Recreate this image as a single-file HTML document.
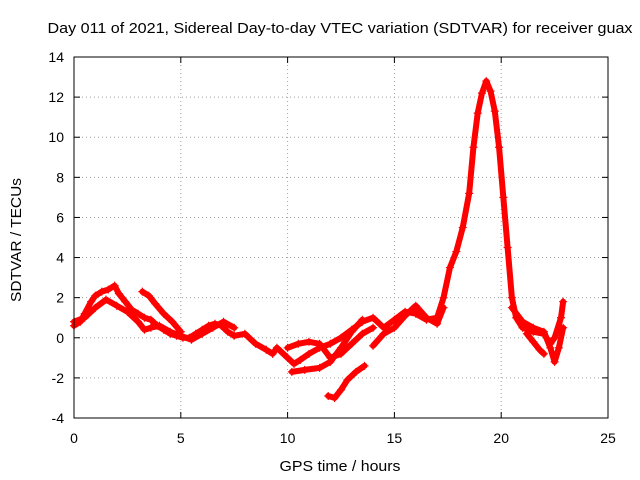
<!DOCTYPE html>
<html><head><meta charset="utf-8"><style>
body{margin:0;background:#fff}
svg{display:block;font-family:"Liberation Sans",sans-serif}
</style></head><body>
<svg id="chart" width="640" height="480">
<text x="340" y="33" text-anchor="middle" font-size="15" textLength="585" lengthAdjust="spacingAndGlyphs">Day 011 of 2021, Sidereal Day-to-day VTEC variation (SDTVAR) for receiver guax</text>
<text x="340" y="471" text-anchor="middle" font-size="15" textLength="121" lengthAdjust="spacingAndGlyphs">GPS time / hours</text>
<text x="21" y="240" text-anchor="middle" font-size="15" textLength="124" lengthAdjust="spacingAndGlyphs" transform="rotate(-90 21 240)">SDTVAR / TECUs</text>
<g id="grid"></g>
<g id="ticks"></g>
<g id="marks"></g>
<rect x="74" y="57" width="534" height="361" fill="none" stroke="#000"/>
</svg>
<script>
const xTicks=[0,5,10,15,20,25];
const yTicks=[-4,-2,0,2,4,6,8,10,12,14];
const traceMain=[[0,0.6],[0.3,0.8],[0.5,1.2],[0.8,1.8],[1.0,2.1],[1.3,2.3],[1.6,2.4],[1.9,2.6],[2.1,2.2],[2.4,1.8],[2.7,1.4],[3.0,1.2],[3.3,1.0],[3.6,0.9],[3.9,0.6],[4.2,0.4],[4.5,0.2],[4.8,0.1],[5.1,0.0],[5.4,0.0],[5.7,0.2],[6.0,0.4],[6.3,0.6],[6.6,0.7],[6.9,0.6],[7.2,0.3],[7.5,0.1],[8.0,0.2],[8.5,-0.3],[9.0,-0.6],[9.3,-0.8],[9.5,-0.5],[10.0,-1.0],[10.3,-1.3],[10.6,-1.1],[11.0,-0.8],[11.5,-0.5],[12.0,-0.3],[12.5,0.0],[13.0,0.4],[13.5,0.8],[14.0,1.0],[14.5,0.5],[15.0,0.9],[15.5,1.3],[16.0,1.2],[16.5,0.9],[17.0,1.0],[17.3,2.0],[17.6,3.5],[17.9,4.3],[18.2,5.5],[18.5,7.2],[18.7,9.5],[18.9,11.2],[19.1,12.2],[19.3,12.8],[19.5,12.3],[19.7,11.3],[19.9,9.5],[20.1,7.0],[20.3,4.5],[20.5,2.0],[20.7,1.0],[21.0,0.5],[21.5,0.3],[22.0,0.2],[22.3,-0.3],[22.5,0.0],[22.8,1.0],[22.9,1.8]];
const traceB=[[0,0.8],[0.5,1.0],[1,1.5],[1.5,1.9],[2,1.6],[2.5,1.3],[3,0.8],[3.3,0.4],[3.6,0.5],[4,0.6],[4.5,0.3],[5,0.1],[5.5,-0.1],[6,0.2],[6.5,0.5],[7,0.8],[7.5,0.5]];
const traceC=[[3.2,2.3],[3.5,2.1],[3.8,1.7],[4.2,1.2],[4.6,0.8],[5,0.3]];
const traceD=[[11.9,-2.9],[12.2,-3.0],[12.5,-2.6],[12.8,-2.1],[13.2,-1.7],[13.6,-1.4]];
const traceE=[[10,-0.5],[10.5,-0.3],[11,-0.2],[11.5,-0.3],[12,-1.0],[12.5,-0.8],[13,-0.3],[13.5,0.2],[14,0.5]];
const traceF=[[10.2,-1.7],[10.8,-1.6],[11.5,-1.5],[12,-1.2],[12.5,-0.5],[13,0.3],[13.5,0.9]];
const traceG=[[14,-0.4],[14.5,0.2],[15,0.5],[15.5,1.1],[16,1.6],[16.5,1.0],[17,0.7],[17.3,1.5]];
const traceH=[[20.5,1.5],[21,0.8],[21.5,0.5],[22,0.3],[22.3,-0.5],[22.5,-1.2],[22.7,-0.5],[22.9,0.5]];
const traceI=[[21.2,0.2],[21.5,-0.2],[21.8,-0.6],[22,-0.8]];
const traces=[traceMain,traceB,traceC,traceD,traceE,traceF,traceG,traceH,traceI];
const X0=74,X1=608,Y0=418,Y1=57;
const sx=v=>X0+(v-0)/(25-0)*(X1-X0);
const sy=v=>Y0-(v+4)/(14+4)*(Y0-Y1);
const NS='http://www.w3.org/2000/svg';
const grid=document.getElementById('grid'),ticks=document.getElementById('ticks'),marks=document.getElementById('marks');
function mk(t,a,p){const e=document.createElementNS(NS,t);for(const k in a)e.setAttribute(k,a[k]);p.appendChild(e);return e;}
xTicks.forEach(v=>{const x=sx(v);
 if(v>0&&v<25){const g=mk('line',{x1:x,x2:x,y1:Y0,y2:Y1,stroke:'#a0a0a0','stroke-dasharray':'1,3'},grid);
 
 }
 const t=mk('text',{x:x,y:Y0+25,'text-anchor':'middle','font-size':14},ticks);t.textContent=v;
 
 
 mk('line',{x1:x,x2:x,y1:Y0,y2:Y0-6,stroke:'#000'},ticks);mk('line',{x1:x,x2:x,y1:Y1,y2:Y1+6,stroke:'#000'},ticks);});
yTicks.forEach(v=>{const y=sy(v);
 if(v>-4&&v<14){const g=mk('line',{x1:X0,x2:X1,y1:y,y2:y,stroke:'#a0a0a0','stroke-dasharray':'1,3'},grid);
 
 }
 const t=mk('text',{x:X0-10,y:y+5,'text-anchor':'end','font-size':14},ticks);t.textContent=v;
 
 
 mk('line',{x1:X0,x2:X0+6,y1:y,y2:y,stroke:'#000'},ticks);mk('line',{x1:X1,x2:X1-6,y1:y,y2:y,stroke:'#000'},ticks);});
traces.forEach((tr,i)=>{
 const pl=mk('polyline',{points:tr.map(p=>sx(p[0])+','+sy(p[1])).join(' '),fill:'none',stroke:'#f00','stroke-width':6,'stroke-linejoin':'round','stroke-linecap':'round'},marks);
 
 
 tr.forEach(p=>{const x=sx(p[0]),y=sy(p[1]);
  const m=mk('path',{d:`M${x-4},${y}H${x+4}M${x},${y-4}V${y+4}`,stroke:'#f00','stroke-width':1.2},marks);
  
  });
});
</script>
</body></html>
